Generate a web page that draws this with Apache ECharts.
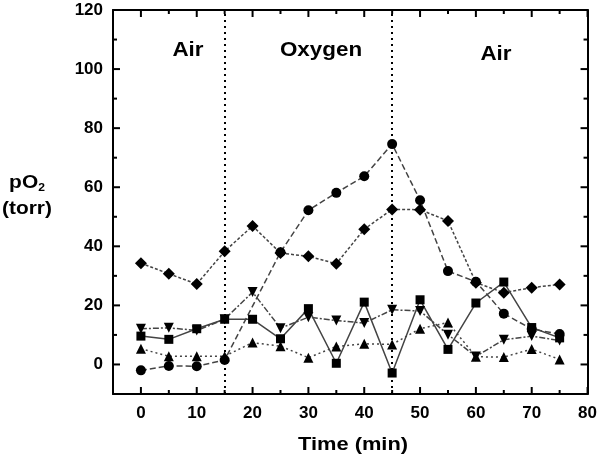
<!DOCTYPE html>
<html>
<head>
<meta charset="utf-8">
<script src="https://cdn.jsdelivr.net/npm/echarts@6/dist/echarts.min.js"></script>
<style>html,body{margin:0;padding:0;background:#fff}#c{width:600px;height:461px}</style>
</head>
<body>
<div id="c"></div>
<script>
var times = [0, 5, 10, 15, 20, 25, 30, 35, 40, 45, 50, 55, 60, 65, 70, 75];
var circleVals = [-2, -0.5, -0.6, 1.5, null, 38, 52.2, 58.1, 63.7, 74.6, 55.6, 31.6, 28, 17.2, 12, 10.3];
var diamondVals = [34.3, 30.7, 27.2, 38.3, 46.9, 37.7, 36.6, 34.1, 45.8, 52.5, 52.4, 48.6, 27.7, 24.3, 26, 27.1];
var squareVals = [9.6, 8.5, 12.1, 15.3, 15.3, 8.7, 18.9, 0.4, 21.1, -2.9, 21.9, 5.1, 20.8, 27.9, 12.5, 9];
var upTriVals = [5.3, 2.8, 2.8, 2.8, 7.4, 6.2, 2.3, 6.1, 7.0, 6.8, 12.1, 14.2, 2.6, 2.5, 5.2, 1.7];
var downTriVals = [12.1, 12.4, 11.5, 15.3, 24.5, 12.3, 16.0, 14.9, 14.0, 18.5, 18.1, 10.1, 2.7, 8.4, 9.6, 8.1];
var xMajor = [0, 10, 20, 30, 40, 50, 60, 70, 80];
var xMinor = [5, 15, 25, 35, 45, 55, 65, 75];
var yMajor = [0, 20, 40, 60, 80, 100, 120];
var yMinor = [10, 30, 50, 70, 90, 110];
var phaseLines = [15, 45];
var phaseLabels = ['Air', 'Oxygen', 'Air'];
var X_MIN = -5, X_MAX = 80, Y_MIN = -10, Y_MAX = 120;

function pairs(vals) { return times.map(function (t, i) { return [t, vals[i]]; }); }

var FONT = 'Liberation Sans, Arial, sans-serif';
var lineCol = '#444';
function mkSeries(vals, symbol, rotate, dash, size, extra) {
  var s = {
    type: 'line', data: pairs(vals), symbol: symbol, symbolSize: size, symbolRotate: rotate,
    connectNulls: true, z: 3,
    itemStyle: { color: '#000' },
    lineStyle: { color: lineCol, width: 1.5, type: dash },
    emphasis: { disabled: true }, animation: false
  };
  if (extra) for (var k in extra) s[k] = extra[k];
  return s;
}

function xAx(pos, labels) {
  return {
    type: 'value', min: X_MIN, max: X_MAX, position: pos,
    axisLine: { show: true, onZero: false, lineStyle: { color: '#000', width: 2 } },
    axisTick: { show: false },
    axisLabel: labels ? { show: true, customValues: xMajor, color: '#000', fontFamily: FONT, fontWeight: 'bold', fontSize: 17, margin: 11 } : { show: false },
    splitLine: { show: false }
  };
}
function yAx(pos, labels) {
  return {
    type: 'value', min: Y_MIN, max: Y_MAX, position: pos,
    axisLine: { show: true, onZero: false, lineStyle: { color: '#000', width: 2 } },
    axisTick: { show: false },
    axisLabel: labels ? { show: true, customValues: yMajor, color: '#000', fontFamily: FONT, fontWeight: 'bold', fontSize: 17, margin: 10 } : { show: false },
    splitLine: { show: false }
  };
}

// tick marks drawn through the axis scale
function tickSeries(values, dim, len) {
  return {
    type: 'custom', silent: true, clip: false, z: 5, animation: false,
    data: values.map(function (v) { return dim === 'x' ? [v, Y_MIN] : [X_MIN, v]; }),
    renderItem: function (params, api) {
      var st = { stroke: '#000', lineWidth: 2 };
      if (dim === 'x') {
        var b = api.coord([api.value(0), Y_MIN]);
        var t = api.coord([api.value(0), Y_MAX]);
        return { type: 'group', children: [
          { type: 'line', shape: { x1: b[0], y1: b[1], x2: b[0], y2: b[1] - len }, style: st },
          { type: 'line', shape: { x1: t[0], y1: t[1], x2: t[0], y2: t[1] + len }, style: st }
        ] };
      } else {
        var l = api.coord([X_MIN, api.value(1)]);
        var r = api.coord([X_MAX, api.value(1)]);
        return { type: 'group', children: [
          { type: 'line', shape: { x1: l[0], y1: l[1], x2: l[0] + len, y2: l[1] }, style: st },
          { type: 'line', shape: { x1: r[0], y1: r[1], x2: r[0] - len, y2: r[1] }, style: st }
        ] };
      }
    }
  };
}

var chart = echarts.init(document.getElementById('c'), null, { renderer: 'canvas' });
var option = {
  animation: false,
  grid: { left: 113, right: 11, top: 10, bottom: 67, containLabel: false },
  xAxis: [ xAx('bottom', true), xAx('top', false) ],
  yAxis: [ yAx('left', true), yAx('right', false) ],
  series: [
    mkSeries(squareVals, 'rect', 0, 'solid', 9, {
      markLine: {
        silent: true, symbol: ['none', 'none'], label: { show: false },
        lineStyle: { color: '#000', width: 2, type: [2, 4] },
        data: phaseLines.map(function (v) { return { xAxis: v }; })
      }
    }),
    mkSeries(circleVals, 'circle', 0, [6, 3], 10),
    mkSeries(diamondVals, 'diamond', 0, [3, 2], 12),
    mkSeries(upTriVals, 'triangle', 0, [2, 3], 10),
    mkSeries(downTriVals, 'triangle', 180, [6, 2, 2, 2], 10),
    tickSeries(xMajor, 'x', 7),
    tickSeries(xMinor, 'x', 4),
    tickSeries(yMajor, 'y', 7),
    tickSeries(yMinor, 'y', 4)
  ],
  graphic: [
    { type: 'text', x: 188, y: 50, scaleX: 1.12, style: { text: phaseLabels[0], font: 'bold 20px ' + FONT, fill: '#000', textAlign: 'center', textVerticalAlign: 'middle' } },
    { type: 'text', x: 321, y: 50, scaleX: 1.12, style: { text: phaseLabels[1], font: 'bold 20px ' + FONT, fill: '#000', textAlign: 'center', textVerticalAlign: 'middle' } },
    { type: 'text', x: 496, y: 54, scaleX: 1.12, style: { text: phaseLabels[2], font: 'bold 20px ' + FONT, fill: '#000', textAlign: 'center', textVerticalAlign: 'middle' } },
    { type: 'text', x: 353, y: 445, scaleX: 1.15, style: { text: 'Time (min)', font: 'bold 19px ' + FONT, fill: '#000', textAlign: 'center', textVerticalAlign: 'middle' } },
    { type: 'text', x: 27, y: 183, scaleX: 1.1, style: {
        text: '{a|pO}{s|2}', textAlign: 'center', textVerticalAlign: 'middle', rich: {
          a: { font: 'bold 19px ' + FONT, fill: '#000' },
          s: { font: 'bold 11px ' + FONT, fill: '#000', padding: [10, 0, 0, 0] }
        } } },
    { type: 'text', x: 27, y: 209, scaleX: 1.1, style: { text: '(torr)', font: 'bold 19px ' + FONT, fill: '#000', textAlign: 'center', textVerticalAlign: 'middle' } }
  ]
};
chart.setOption(option);
</script>
</body>
</html>
